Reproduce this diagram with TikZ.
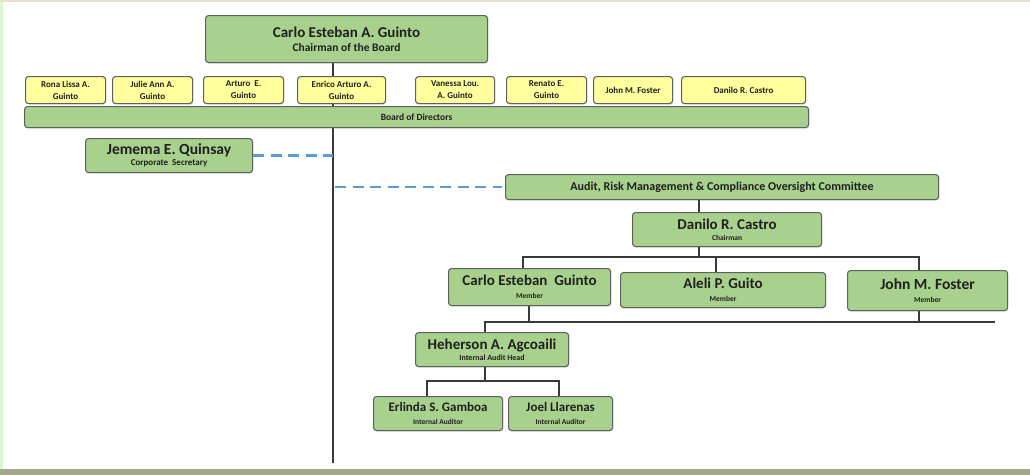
\documentclass[tikz,border=0pt]{standalone}
\usepackage{fontspec}
\setmainfont{Carlito}
\usetikzlibrary{shadows}

\definecolor{boxgreen}{HTML}{A9D18E}
\definecolor{boxyellow}{HTML}{FFFF9E}
\definecolor{boxedge}{HTML}{5E625D}
\definecolor{linkgray}{HTML}{3A3A3A}
\definecolor{dashblue}{HTML}{5B9BD5}
\definecolor{framegreen}{HTML}{DCF5D3}
\definecolor{footbar}{HTML}{A3A98C}
\definecolor{topline}{HTML}{E6E2CE}

\newcommand\namesize{\fontsize{15}{15}\selectfont}
\newcommand\rolesize{\fontsize{7.5}{9}\selectfont}

\pgfdeclarelayer{bg}
\pgfsetlayers{bg,main}

\tikzset{
  card/.style={draw=boxedge, line width=1.1pt, rounded corners=3pt,
    anchor=north west, inner sep=0pt, align=center, text=black!88,
    font=\bfseries,
    drop shadow={opacity=0.18, shadow xshift=0.8pt, shadow yshift=-1.2pt}},
  greencard/.style={card, fill=boxgreen},
  yellowcard/.style={card, fill=boxyellow,
    font=\fontsize{9}{12}\selectfont\bfseries},
  link/.style={draw=linkgray, line width=1.6pt},
  dashlink/.style={draw=dashblue, line width=2.2pt,
    dash pattern=on 11pt off 6.5pt},
}

\begin{document}
\begin{tikzpicture}[x=1pt, y=-1pt]
\useasboundingbox (0,0) rectangle (1030,475);

% page frame
\begin{pgfonlayer}{bg}
  \fill[white] (0,0) rectangle (1030,475);
  \fill[framegreen] (0,0) rectangle (2.5,470);
  \fill[topline] (0,0) rectangle (1030,1.5);
  \fill[footbar] (0,469) rectangle (1030,475);
\end{pgfonlayer}

% chairman and board
\node[greencard, minimum width=282pt, minimum height=47pt] (chair) at (205,15)
  {\namesize Carlo Esteban A. Guinto\\[2pt]\fontsize{11.5}{12}\selectfont Chairman of the Board};

\node[yellowcard, minimum width=80pt, minimum height=27pt] (d1) at (25,76) {Rona Lissa A.\\Guinto};
\node[yellowcard, minimum width=80pt, minimum height=27pt] (d2) at (112,76) {Julie Ann A.\\Guinto};
\node[yellowcard, minimum width=80pt, minimum height=27pt] (d3) at (203,76) {Arturo\ \ E.\\Guinto};
\node[yellowcard, minimum width=88pt, minimum height=27pt] (d4) at (297,76) {Enrico Arturo A.\\Guinto};
\node[yellowcard, minimum width=79pt, minimum height=27pt] (d5) at (415,76) {Vanessa Lou.\\A. Guinto};
\node[yellowcard, minimum width=80pt, minimum height=27pt] (d6) at (506,76) {Renato E.\\Guinto};
\node[yellowcard, minimum width=79pt, minimum height=27pt] (d7) at (593,76) {John M. Foster};
\node[yellowcard, minimum width=124pt, minimum height=27pt] (d8) at (681,76) {Danilo R. Castro};

\node[greencard, minimum width=784pt, minimum height=21pt,
  font=\fontsize{9.5}{10}\selectfont\bfseries] (board) at (24,106) {Board of Directors};

% corporate secretary
\node[greencard, minimum width=167pt, minimum height=34pt] (secretary) at (85,138)
  {\fontsize{15.5}{15.5}\selectfont Jemema E. Quinsay\\[-1pt]\fontsize{9}{9}\selectfont Corporate\ \ Secretary};

% audit committee
\node[greencard, minimum width=433pt, minimum height=25pt,
  font=\fontsize{12}{12}\selectfont\bfseries] (audit) at (505,174)
  {Audit, Risk Management \& Compliance Oversight Committee};

\node[greencard, minimum width=189pt, minimum height=34pt] (castro) at (632,212)
  {\namesize Danilo R. Castro\\[-1pt]\rolesize Chairman};

\node[greencard, minimum width=162pt, minimum height=37pt] (guinto) at (448,268)
  {\namesize Carlo Esteban\ \ Guinto\\[1pt]\rolesize Member};
\node[greencard, minimum width=205pt, minimum height=35pt] (guito) at (620,272)
  {\namesize Aleli P. Guito\\[1pt]\rolesize Member};
\node[greencard, minimum width=160pt, minimum height=40pt] (foster) at (847,270)
  {\fontsize{15.5}{15.5}\selectfont John M. Foster\\[1pt]\rolesize Member};

% internal audit
\node[greencard, minimum width=153pt, minimum height=34pt] (head) at (415,332)
  {\namesize Heherson A. Agcoaili\\[-1pt]\fontsize{8}{9}\selectfont Internal Audit Head};

\node[greencard, minimum width=129pt, minimum height=34pt] (gamboa) at (373,396)
  {\fontsize{13}{13}\selectfont Erlinda S. Gamboa\\[1pt]\rolesize Internal Auditor};
\node[greencard, minimum width=104pt, minimum height=34pt] (llarenas) at (508,396)
  {\fontsize{13}{13}\selectfont Joel Llarenas\\[1pt]\rolesize Internal Auditor};

% reference columns and bus rows for the connectors
\coordinate (spineX) at (333,0);
\coordinate (spineBot) at (333,463);
\coordinate (auditX) at (699,0);
\coordinate (busA) at (0,257);
\coordinate (busB) at (0,322);
\coordinate (busC) at (0,381);
\coordinate (xGuinto) at (523,0);
\coordinate (xGuito) at (716,0);
\coordinate (xFoster) at (919,0);
\coordinate (xGuintoLow) at (529,0);
\coordinate (xHead) at (485,0);
\coordinate (busBend) at (995,322);
\coordinate (xGamboa) at (427,0);
\coordinate (xLlarenas) at (559,0);

% main reporting line, behind the board boxes
\begin{pgfonlayer}{bg}
  \draw[link] (chair.south -| spineX) -- (spineBot);
\end{pgfonlayer}

% dotted-line reporting
\draw[dashlink] (secretary.east) -- (secretary.east -| spineX);
\draw[dashlink, shorten <=2pt, shorten >=3pt] (audit.west -| spineX) -- (audit.west);

% committee tree
\draw[link] (audit.south -| auditX) -- (castro.north -| auditX);
\draw[link] (castro.south -| auditX) -- (busA -| auditX);
\draw[link] (guinto.north -| xGuinto) -- (busA -| xGuinto) -- (busA -| xFoster) -- (foster.north -| xFoster);
\draw[link] (busA -| xGuito) -- (guito.north -| xGuito);

\draw[link] (guinto.south -| xGuintoLow) -- (busB -| xGuintoLow);
\draw[link] (foster.south -| xFoster) -- (busB -| xFoster);
\draw[link] (head.north -| xHead) -- (busB -| xHead) -- (busBend);

\draw[link] (head.south -| xHead) -- (busC -| xHead);
\draw[link] (gamboa.north -| xGamboa) -- (busC -| xGamboa) -- (busC -| xLlarenas) -- (llarenas.north -| xLlarenas);
\end{tikzpicture}
\end{document}
